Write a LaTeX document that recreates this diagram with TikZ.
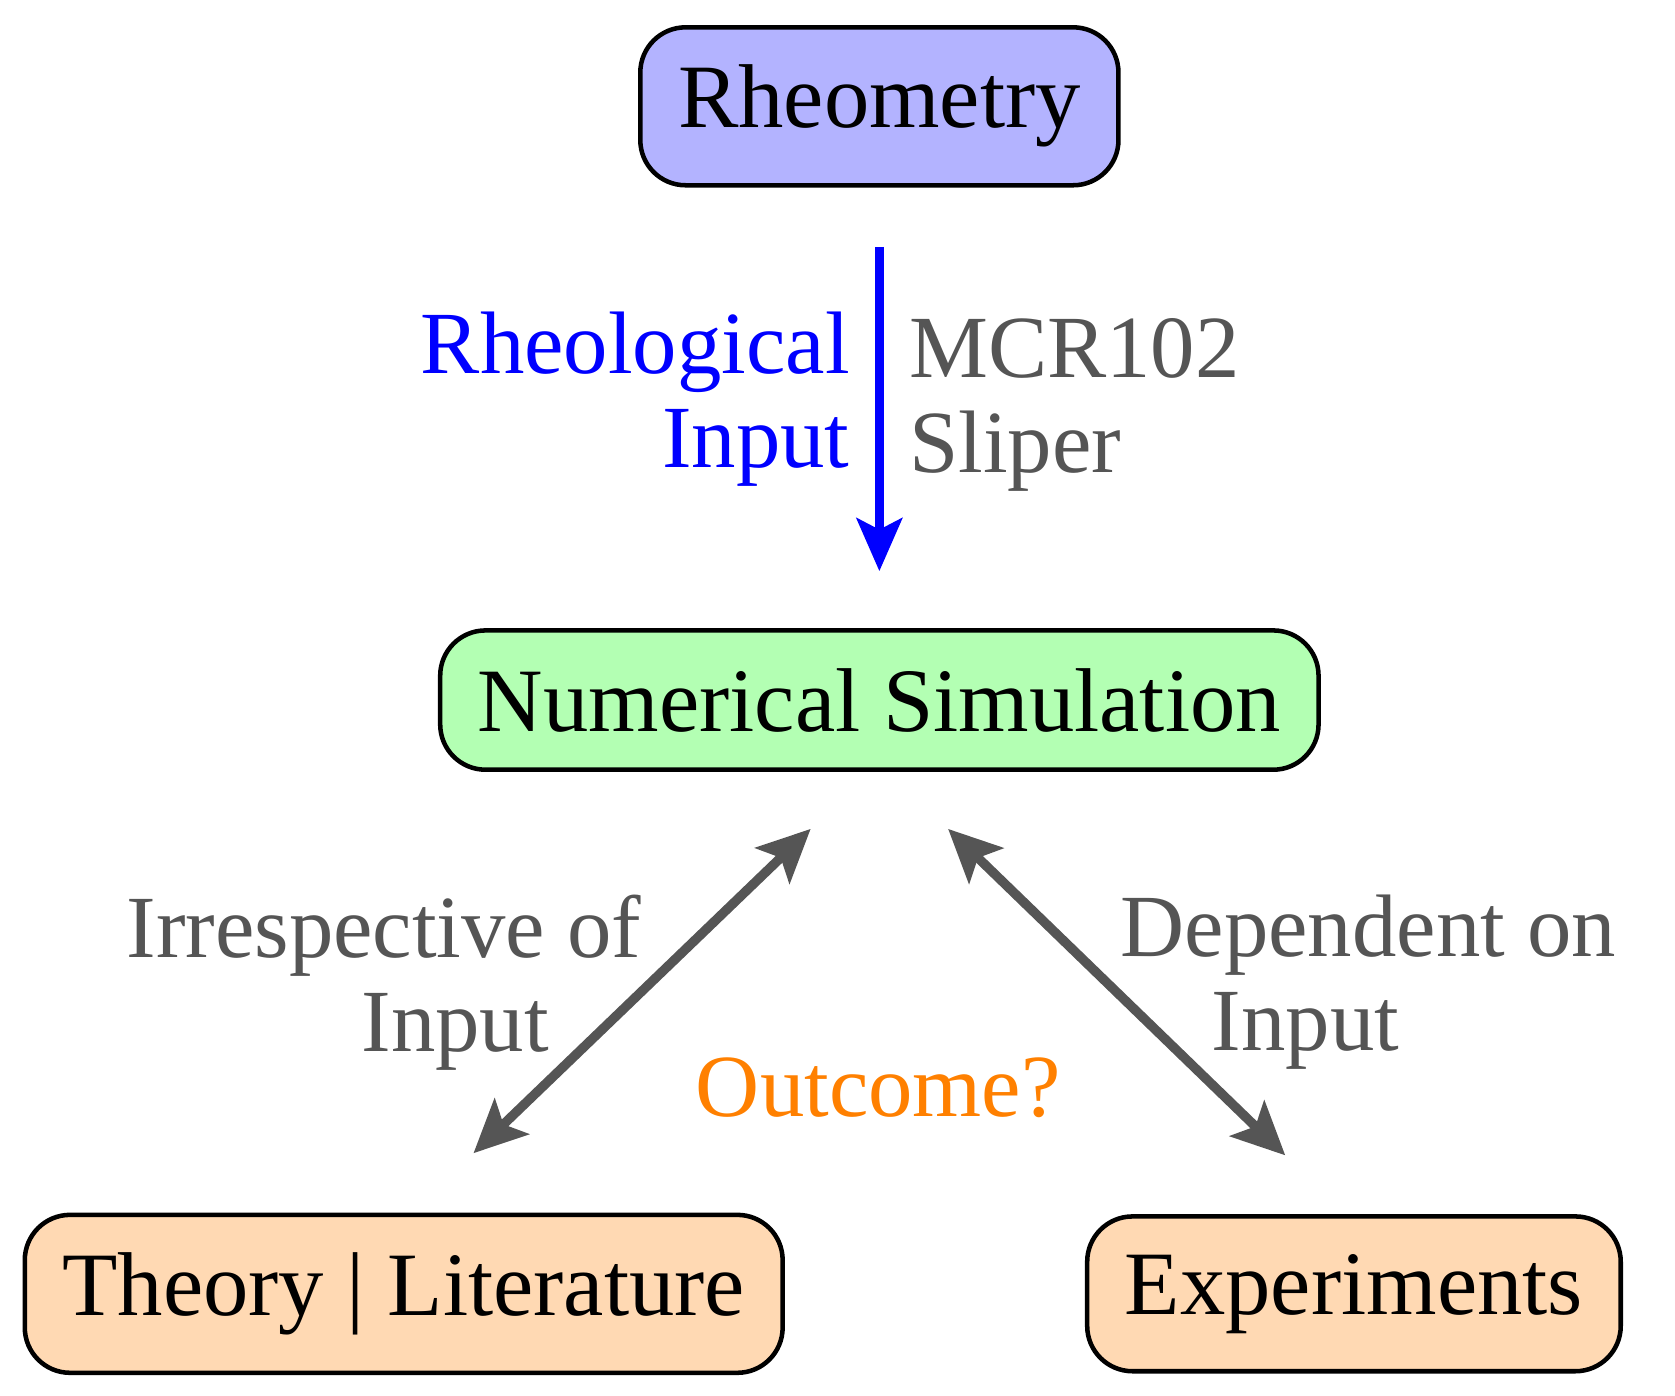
\documentclass[tikz,border=0pt]{standalone}
\usepackage{fontspec}
\setmainfont{Liberation Serif}
\usetikzlibrary{positioning,arrows.meta}
\definecolor{boxblue}{RGB}{179,179,255}
\definecolor{boxgreen}{RGB}{179,255,179}
\definecolor{boxorange}{RGB}{255,217,179}
\definecolor{txtgray}{RGB}{85,85,85}
\definecolor{txtorange}{RGB}{255,128,0}
\tikzset{
	box/.style={draw=black,line width=1.2pt,rounded corners=12pt,inner xsep=10pt,inner ysep=10pt,font=\fontsize{24}{28}\selectfont},
	lbl/.style={font=\fontsize{23.5}{25}\selectfont,inner sep=0pt},
}
\begin{document}
\begin{tikzpicture}[x=0.01cm,y=-0.01cm]
\useasboundingbox (0,0) rectangle (1560,1300);

\node [box,fill=boxblue,minimum width=4.42cm,minimum height=1.28cm] at (819,99) (rheo) {Rheometry};
\node [box,fill=boxgreen,minimum width=8.14cm,minimum height=1.11cm] at (819,652) (sim) {Numerical Simulation};
\node [box,fill=boxorange,minimum width=6.87cm,minimum height=1.30cm] at (376,1205) (theo) {Theory | Literature};
\node [box,fill=boxorange,minimum width=4.87cm,minimum height=1.30cm] at (1261,1205) (expt) {Experiments};

\coordinate (b0) at (819,230);
\coordinate (b1) at (819,532);
\coordinate (l0) at (755,772);
\coordinate (l1) at (441,1074);
\coordinate (r0) at (883,772);
\coordinate (r1) at (1197,1076);

\draw [blue,line width=2.5pt,-{Stealth[length=14pt,width=12pt,inset=3pt]}] (b0) -- (b1);
\draw [txtgray,line width=2.5pt,{Stealth[length=14pt,width=13pt,inset=3pt]}-{Stealth[length=14pt,width=13pt,inset=3pt]}] (l0) -- (l1);
\draw [txtgray,line width=2.5pt,{Stealth[length=14pt,width=13pt,inset=3pt]}-{Stealth[length=14pt,width=13pt,inset=3pt]}] (r0) -- (r1);

\node [lbl,blue,align=right,anchor=east] at (792,372) (rin) {Rheological\\Input};
\node [lbl,txtgray,align=left,anchor=west] at (846,377) (mcr) {MCR102\\Sliper};
\node [lbl,txtgray,align=right,anchor=east] at (598,915) (irr) {Irrespective of\\Input\hspace*{0.86cm}};
\node [lbl,txtgray,align=left,anchor=west] at (1043,915) (dep) {Dependent on\\\hspace*{0.85cm}Input};
\node [lbl,txtorange] at (818,1013) (out) {Outcome?};

\end{tikzpicture}
\end{document}
